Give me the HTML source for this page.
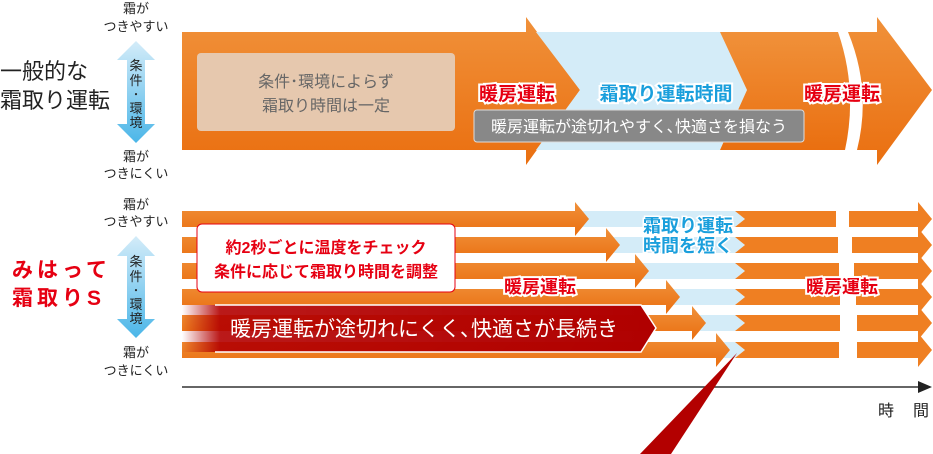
<!DOCTYPE html>
<html><head><meta charset="utf-8"><style>
html,body{margin:0;padding:0;background:#fff;}
svg{display:block;font-family:"Liberation Sans","Noto Sans CJK JP",sans-serif;}
</style></head><body>
<svg width="933" height="454" viewBox="0 0 933 454" xmlns="http://www.w3.org/2000/svg">
<defs>
<linearGradient id="og" x1="0" y1="0" x2="0" y2="1"><stop offset="0" stop-color="#f0913a"/><stop offset="1" stop-color="#ea6f10"/></linearGradient>
<linearGradient id="bl" x1="0" y1="0" x2="0" y2="1"><stop offset="0" stop-color="#d4ecf9"/><stop offset="1" stop-color="#4bb6e8"/></linearGradient>
<linearGradient id="rd" x1="0" y1="0" x2="1" y2="0"><stop offset="0" stop-color="#b30000" stop-opacity="0"/><stop offset="0.08" stop-color="#b30000" stop-opacity="0.9"/><stop offset="1" stop-color="#b00000"/></linearGradient>
</defs>

<!-- TOP SECTION -->
<polygon points="182,32 526,32 526,17 580,90 526,165 526,150 182,150" fill="url(#og)"/>
<polygon points="536,32 720,32 747,90 720,150 536,150 580,90" fill="#d4ecf8"/>
<polygon points="720,32 833,32 833,150 720,150 747,90" fill="url(#og)"/>
<path d="M848,32 L877,32 877,17 932,90 877,165 877,150 857,150 Q872,90 848,32 Z" fill="url(#og)"/>
<path d="M833,32 L838,32 Q858,90 845,150 L833,150 Z" fill="url(#og)"/>
<rect x="197" y="53" width="258" height="78" rx="4" fill="#e6c8ae"/>
<text x="326" y="87" font-size="16" fill="#666" text-anchor="middle">条件･環境によらず</text>
<text x="326" y="111" font-size="16" fill="#666" text-anchor="middle">霜取り時間は一定</text>
<g font-size="19" font-weight="bold" text-anchor="middle">
<text x="517" y="100" fill="#e60012" stroke="#fff" stroke-width="4" paint-order="stroke">暖房運転</text>
<text x="666" y="100" fill="#1a9fdc" stroke="#fff" stroke-width="4" paint-order="stroke">霜取り運転時間</text>
<text x="842" y="100" fill="#e60012" stroke="#fff" stroke-width="4" paint-order="stroke">暖房運転</text>
</g>
<rect x="474" y="110" width="330" height="32" rx="3" fill="#888" stroke="#ddd" stroke-width="1"/>
<text x="639" y="132" font-size="16" fill="#fff" text-anchor="middle">暖房運転が途切れやすく､快適さを損なう</text>

<!-- LEFT LABELS -->
<text x="0" y="79" font-size="22" fill="#222">一般的な</text>
<text x="0" y="108" font-size="22" fill="#222">霜取り運転</text>
<text x="12" y="277" font-size="21" font-weight="bold" fill="#e60012" letter-spacing="4">みはって</text>
<text x="12" y="305" font-size="21" font-weight="bold" fill="#e60012" letter-spacing="4">霜取りS</text>
<g font-size="13" fill="#222" text-anchor="middle">
<text x="136" y="13">霜が</text><text x="136" y="31">つきやすい</text>
<text x="136" y="161">霜が</text><text x="136" y="178">つきにくい</text>
<text x="136" y="209">霜が</text><text x="136" y="226">つきやすい</text>
<text x="136" y="357">霜が</text><text x="136" y="375">つきにくい</text>
</g>
<g fill="url(#bl)">
<polygon points="136,41 155,60 145,60 145,124 155,124 136,143 117,124 127,124 127,60 117,60"/>
<polygon points="136,236 155,256 145,256 145,319 155,319 136,338 117,319 127,319 127,256 117,256"/>
</g>
<g font-size="13" fill="#222" text-anchor="middle">
<text x="136" y="70">条</text><text x="136" y="85">件</text><text x="136" y="99">･</text><text x="136" y="113">環</text><text x="136" y="127">境</text>
<text x="136" y="266">条</text><text x="136" y="281">件</text><text x="136" y="295">･</text><text x="136" y="309">環</text><text x="136" y="323">境</text>
</g>

<!-- BOTTOM ROWS -->
<g fill="#d4ecf8">
<polygon points="575,211 735,211 745,219 735,227 575,227"/>
<polygon points="606,237 735,237 745,245 735,253 606,253"/>
<polygon points="635,263 735,263 745,271 735,279 635,279"/>
<polygon points="666,289 735,289 745,297 735,305 666,305"/>
<polygon points="692,315 735,315 745,323 735,331 692,331"/>
<polygon points="716,342 735,342 745,350 735,358 716,358"/>
</g>
<g fill="url(#og)">
<polygon points="182,211 575,211 575,202 589,219 575,236 575,227 182,227"/>
<polygon points="182,237 606,237 606,228 620,245 606,262 606,253 182,253"/>
<polygon points="182,263 635,263 635,254 649,271 635,288 635,279 182,279"/>
<polygon points="182,289 666,289 666,280 680,297 666,314 666,305 182,305"/>
<polygon points="182,315 692,315 692,306 706,323 692,340 692,331 182,331"/>
<polygon points="182,342 716,342 716,333 730,350 716,367 716,358 182,358"/>
</g>
<g fill="#ef7f22">
<polygon points="735,211 836,211 836,227 735,227 745,219"/>
<polygon points="735,237 838,237 838,253 735,253 745,245"/>
<polygon points="735,263 839,263 839,279 735,279 745,271"/>
<polygon points="735,289 840,289 840,305 735,305 745,297"/>
<polygon points="735,315 840,315 840,331 735,331 745,323"/>
<polygon points="735,342 839,342 839,358 735,358 745,350"/>
<polygon points="849,211 918,211 918,202 932,219 918,236 918,227 849,227"/>
<polygon points="852,237 918,237 918,228 932,245 918,262 918,253 852,253"/>
<polygon points="854,263 918,263 918,254 932,271 918,288 918,279 854,279"/>
<polygon points="856,289 918,289 918,280 932,297 918,314 918,305 856,305"/>
<polygon points="857,315 918,315 918,306 932,323 918,340 918,331 857,331"/>
<polygon points="857,342 918,342 918,333 932,350 918,367 918,358 857,358"/>
</g>

<!-- red banner -->
<polygon points="182,305 641,305 656,328 641,352 182,352" fill="url(#rd)"/>
<polyline points="215,305 641,305 656,328 641,352 215,352" fill="none" stroke="#fff" stroke-width="1.5"/>
<text x="424" y="336" font-size="21" fill="#fff" text-anchor="middle">暖房運転が途切れにくく､快適さが長続き</text>

<!-- white box -->
<rect x="197" y="224" width="258" height="68" rx="5" fill="#fff" stroke="#e60012" stroke-width="1"/>
<text x="326" y="253" font-size="16" font-weight="bold" fill="#e60012" text-anchor="middle">約2秒ごとに温度をチェック</text>
<text x="326" y="277" font-size="16" font-weight="bold" fill="#e60012" text-anchor="middle">条件に応じて霜取り時間を調整</text>

<g font-size="18" font-weight="bold" text-anchor="middle">
<text x="540" y="293" fill="#e60012" stroke="#fff" stroke-width="4" paint-order="stroke">暖房運転</text>
<text x="842" y="293" fill="#e60012" stroke="#fff" stroke-width="4" paint-order="stroke">暖房運転</text>
<text x="688" y="232" fill="#1a9fdc" stroke="#fff" stroke-width="3" paint-order="stroke">霜取り運転</text>
<text x="688" y="252" fill="#1a9fdc" stroke="#fff" stroke-width="3" paint-order="stroke">時間を短く</text>
</g>

<!-- axis -->
<line x1="182" y1="387" x2="922" y2="387" stroke="#333" stroke-width="1.5"/>
<polygon points="918,381 932,387 918,393" fill="#222"/>
<text x="878" y="416" font-size="16" fill="#222">時</text>
<text x="913" y="416" font-size="16" fill="#222">間</text>

<!-- pointer -->
<polygon points="640,454 671,454 737,353" fill="#b30000"/>
</svg>
</body></html>
